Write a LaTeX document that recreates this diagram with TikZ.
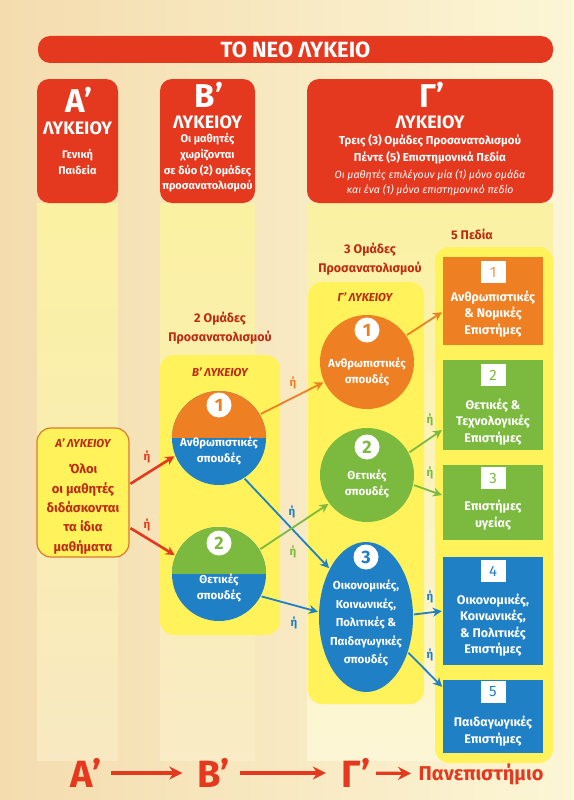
\documentclass[tikz,border=0pt]{standalone}
\usepackage{fontspec}
\setmainfont{Fira Sans}
\usetikzlibrary{arrows.meta,positioning,calc,shapes.geometric}
\definecolor{hdrred}{HTML}{E5391F}
\definecolor{txtred}{HTML}{BE2A12}
\definecolor{orangeC}{HTML}{EE7F23}
\definecolor{greenC}{HTML}{7BBA3E}
\definecolor{blueC}{HTML}{1F80C6}
\definecolor{boxyel}{HTML}{FFF25A}
\definecolor{strip}{HTML}{FBF1A2}
\definecolor{bgleft}{HTML}{F4DCAE}
\definecolor{bgright}{HTML}{FCF6D6}
\definecolor{aline}{HTML}{DC7B2C}

\begin{document}
\begin{tikzpicture}[x=1pt,y=-1pt,>={Stealth[length=9pt,width=9pt]},font=\bfseries]
\tikzstyle{hdr}=[fill=hdrred,rounded corners=12pt,inner sep=0pt]
\tikzstyle{htxt}=[text=white,align=center,inner sep=0pt]
\tikzstyle{hbig}=[htxt,anchor=base,text depth=0pt,font=\bfseries\fontsize{33}{33}\selectfont]
\tikzstyle{hlyk}=[htxt,anchor=base,text height=13pt,text depth=0pt,font=\bfseries\fontsize{18}{18}\selectfont]
\tikzstyle{pane}=[fill=boxyel,rounded corners=14pt,inner sep=0pt]
\tikzstyle{grp}=[circle,minimum size=94pt,inner sep=0pt]
\tikzstyle{topor}=[path picture={\fill[orangeC] (path picture bounding box.north west) rectangle (path picture bounding box.east);}]
\tikzstyle{topgr}=[path picture={\fill[greenC] (path picture bounding box.north west) rectangle (path picture bounding box.east);}]
\tikzstyle{num}=[circle,fill=white,minimum size=25pt,inner sep=0pt,font=\bfseries\fontsize{18}{18}\selectfont]
\tikzstyle{ctxt}=[text=white,align=center,inner sep=0pt,font=\bfseries\fontsize{11.5}{16}\selectfont]
\tikzstyle{field}=[minimum width=100pt,inner sep=0pt]
\tikzstyle{sq}=[fill=white,minimum width=25pt,minimum height=22pt,inner sep=0pt,font=\fontsize{15}{15}\selectfont]
\tikzstyle{ftxt}=[text=white,align=center,inner sep=0pt,font=\bfseries\fontsize{12.5}{16.5}\selectfont]
\tikzstyle{rtxt}=[text=txtred,align=center,inner sep=0pt,font=\bfseries\fontsize{12.5}{19}\selectfont]
\tikzstyle{itx}=[text=txtred,inner sep=0pt,font=\bfseries\itshape\fontsize{11.5}{11.5}\selectfont]
\tikzstyle{arr}=[->,line width=1.8pt,shorten >=1pt,shorten <=1pt]
\tikzstyle{orr}=[inner sep=0pt,font=\bfseries\fontsize{11.5}{11.5}\selectfont]
\tikzstyle{big}=[text=hdrred,font=\bfseries\fontsize{38}{38}\selectfont]
\tikzstyle{bigarr}=[-{Stealth[length=13pt,width=13pt]},line width=3.2pt,hdrred,shorten >=12pt,shorten <=6pt]

% background and column strips
\useasboundingbox (0,0) rectangle (573,800);
\fill[left color=bgleft,right color=bgright] (0,0) rectangle (573,800);
\fill[top color=strip,bottom color=bgleft!50!bgright] (37,203) rectangle (118,760);
\fill[top color=strip,bottom color=bgleft!40!bgright] (160,203) rectangle (255,760);
\fill[top color=strip,bottom color=bgright] (307,203) rectangle (553,760);

% title and headers
\node[hdr,minimum width=515pt,minimum height=27pt,text=white,font=\bfseries\fontsize{22}{22}\selectfont] (title) at (295.5,49.5) {ΤΟ ΝΕΟ ΛΥΚΕΙΟ};
\node[hdr,minimum width=81pt,minimum height=124pt] (ha) at (77.5,141) {};
\node[hdr,minimum width=95pt,minimum height=124pt] (hb) at (207.5,141) {};
\node[hdr,minimum width=246pt,minimum height=124pt] (hg) at (430,141) {};

\node[hbig] (ha1) at (79,112) {Α’};
\node[hlyk] (ha2) at (77.5,134) {ΛΥΚΕΙΟΥ};
\node[htxt,font=\bfseries\fontsize{11}{16}\selectfont] (ha3) at (77.5,162) {Γενική\\Παιδεία};
\node[hbig] (hb1) at (209,107) {Β’};
\node[hlyk] (hb2) at (207.5,128) {ΛΥΚΕΙΟΥ};
\node[htxt,font=\bfseries\fontsize{11}{15.7}\selectfont] (hb3) at (207.5,163) {Οι μαθητές\\χωρίζονται\\σε δύο (2) ομάδες\\προσανατολισμού};
\node[hbig] (hg1) at (432,107) {Γ’};
\node[hlyk] (hg2) at (430,128) {ΛΥΚΕΙΟΥ};
\node[htxt,font=\bfseries\fontsize{11.5}{17}\selectfont] (hg3) at (430,149) {Τρεις (3) Ομάδες Προσανατολισμού\\Πέντε (5) Επιστημονικά Πεδία};
\node[htxt,font=\mdseries\itshape\fontsize{10.5}{15}\selectfont] (hg4) at (430,183) {Οι μαθητές επιλέγουν μία (1) μόνο ομάδα\\και ένα (1) μόνο επιστημονικό πεδίο};

% yellow panes
\node[pane,minimum width=120pt,minimum height=280pt] (pb) at (220,495) {};
\node[pane,minimum width=116pt,minimum height=422pt] (pg) at (366,493) {};
\node[pane,minimum width=118pt,minimum height=516pt] (pf) at (494,505) {};
\node[pane,draw=aline,line width=1.2pt,minimum width=92pt,minimum height=129pt] (abox) at (83,492.5) {};

\node[rtxt] (gb) at (220,328) {2 Ομάδες\\Προσανατολισμού};
\node[rtxt] (gg) at (370,259) {3 Ομάδες\\Προσανατολισμού};
\node[rtxt] (gf) at (472,234) {5 Πεδία};
\node[itx] (lb) at (220,372) {Β’ ΛΥΚΕΙΟΥ};
\node[itx] (lg) at (365,297) {Γ’ ΛΥΚΕΙΟΥ};
\node[itx] (la) at (83,443) {Α’ ΛΥΚΕΙΟΥ};
\node[rtxt,font=\bfseries\fontsize{13}{19.3}\selectfont] (at) at (83,509) {Όλοι\\οι μαθητές\\διδάσκονται\\τα ίδια\\μαθήματα};

% groups of B
\node[grp,fill=blueC,topor] (b1) at (219,438) {};
\node[num,text=orangeC] (b1n) at (219,405) {1};
\node[ctxt] (b1t) at (219,451) {Ανθρωπιστικές\\σπουδές};
\node[grp,fill=blueC,topgr] (b2) at (219,574) {};
\node[num,text=greenC] (b2n) at (219,543) {2};
\node[ctxt] (b2t) at (219,588) {Θετικές\\σπουδές};

% groups of G
\node[grp,fill=orangeC] (g1) at (367,362) {};
\node[num,text=orangeC] (g1n) at (367,330) {1};
\node[ctxt] (g1t) at (367,372) {Ανθρωπιστικές\\σπουδές};
\node[grp,fill=greenC] (g2) at (367,475) {};
\node[num,text=greenC] (g2n) at (367,447) {2};
\node[ctxt] (g2t) at (367,484) {Θετικές\\σπουδές};
\node[ellipse,fill=blueC,minimum width=94pt,minimum height=150pt,inner sep=0pt] (g3) at (366,617) {};
\node[num,text=blueC] (g3n) at (366,557) {3};
\node[ctxt,font=\bfseries\fontsize{11.5}{18.5}\selectfont] (g3t) at (366,623) {Οικονομικές,\\Κοινωνικές,\\Πολιτικές \&\\Παιδαγωγικές\\σπουδές};

% fields
\node[field,fill=orangeC,minimum height=88pt] (p1) at (493,301) {};
\node[sq,text=orangeC!80] (p1n) at (493,272) {1};
\node[ftxt] (p1t) at (493,314) {Ανθρωπιστικές\\\& Νομικές\\Επιστήμες};
\node[field,fill=greenC,minimum height=90pt] (p2) at (493,405) {};
\node[sq,text=greenC] (p2n) at (493,375) {2};
\node[ftxt] (p2t) at (493,422) {Θετικές \&\\Τεχνολογικές\\Επιστήμες};
\node[field,fill=greenC,minimum height=75pt] (p3) at (493,502.5) {};
\node[sq,text=greenC] (p3n) at (493,478) {3};
\node[ftxt] (p3t) at (493,515) {Επιστήμες\\υγείας};
\node[field,fill=blueC,minimum height=108pt] (p4) at (493,611) {};
\node[sq,text=blueC] (p4n) at (493,571) {4};
\node[ftxt] (p4t) at (493,625) {Οικονομικές,\\Κοινωνικές,\\\& Πολιτικές\\Επιστήμες};
\node[field,fill=blueC,minimum height=73pt] (p5) at (493,716.5) {};
\node[sq,text=blueC] (p5n) at (493,692) {5};
\node[ftxt] (p5t) at (493,731) {Παιδαγωγικές\\Επιστήμες};

% connections
\draw[arr,hdrred,line width=2.6pt] (abox.10) -- (b1.202);
\draw[arr,hdrred,line width=2.6pt] (abox.-37) -- (b2.157);
\draw[arr,orangeC] (b1.30) -- (g1.205);
\draw[arr,blueC] (b1.-58) -- (g3.127);
\draw[arr,greenC] (b2.31) -- (g2.217);
\draw[arr,blueC] (b2.-28) -- (g3.174);
\draw[arr,orangeC] (g1.34) -- (p1.192);
\draw[arr,greenC] (g2.28) -- (p2.206);
\draw[arr,greenC] (g2.-12) -- (p3.172);
\draw[arr,blueC] (g3.3) -- (p4.west);
\draw[arr,blueC] (g3.-40) -- (p5.150);

\node[orr,text=hdrred] (o1) at (147,457) {ή};
\node[orr,text=hdrred] (o2) at (147,525) {ή};
\node[orr,text=orangeC] (o3) at (293,383) {ή};
\node[orr,text=blueC] (o4) at (292,512) {ή};
\node[orr,text=greenC] (o5) at (293,552) {ή};
\node[orr,text=blueC] (o6) at (294,623) {ή};
\node[orr,text=greenC] (o7) at (430,420) {ή};
\node[orr,text=greenC] (o8) at (430,473) {ή};
\node[orr,text=blueC] (o9) at (430,597) {ή};
\node[orr,text=blueC] (o10) at (430,655) {ή};

% bottom line
\node[big] (fa) at (86,773) {Α’};
\node[big] (fb) at (214,773) {Β’};
\node[big] (fg) at (356,773) {Γ’};
\node[text=hdrred,font=\bfseries\fontsize{20}{20}\selectfont] (uni) at (481,774) {Πανεπιστήμιο};
\draw[bigarr] (fa) -- (fb);
\draw[bigarr] (fb) -- (fg);
\draw[bigarr,shorten >=4pt,shorten <=2pt] (fg) -- (uni);
\end{tikzpicture}
\end{document}
